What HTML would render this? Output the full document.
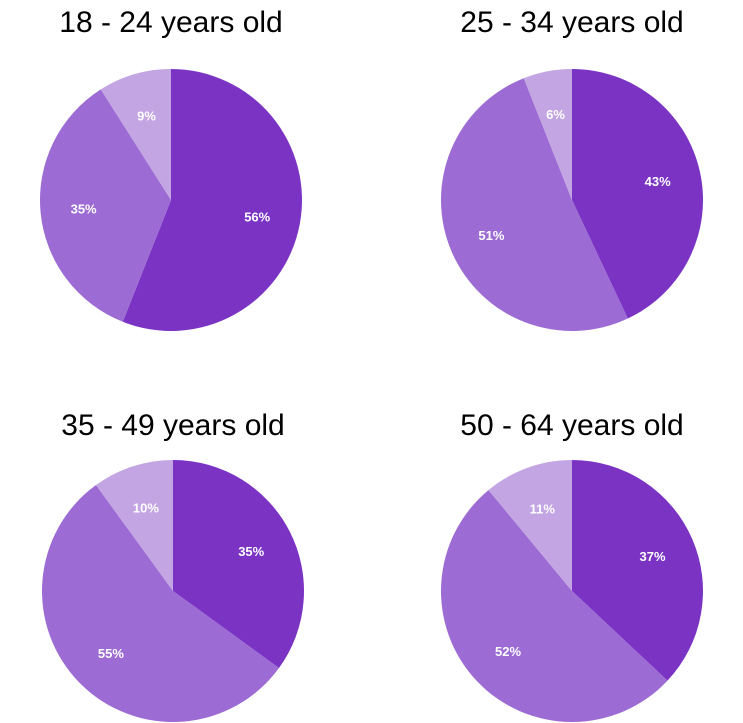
<!DOCTYPE html>
<html><head><meta charset="utf-8"><style>
html,body{margin:0;padding:0;background:#fff;width:743px;height:723px;overflow:hidden}
svg{display:block}
</style></head><body>
<svg id="chart" width="743" height="723"></svg>
<script>
const groups = ["18 - 24 years old","25 - 34 years old","35 - 49 years old","50 - 64 years old"];
const darkValues = [56,43,35,37];
const midValues = [35,51,55,52];
const lightValues = [9,6,10,11];
const colors = ["#7B33C4","#9C6BD3","#C3A5E3"];
const centers = [[171,200],[572,200],[173,591],[572,591]];
const titleY = [32,32,435,435];
const R = 131;
const svg = document.getElementById('chart');
const NS = "http://www.w3.org/2000/svg";
function pt(cx,cy,r,frac){const a=frac*2*Math.PI;return [cx+r*Math.sin(a),cy-r*Math.cos(a)];}
groups.forEach((g,i)=>{
  const [cx,cy]=centers[i];
  const t=document.createElementNS(NS,'text');
  t.setAttribute('x',cx);t.setAttribute('y',titleY[i]);
  t.setAttribute('text-anchor','middle');
  t.setAttribute('font-family','"Liberation Sans", sans-serif');
  t.setAttribute('font-size','30');t.setAttribute('fill','#000');
  t.textContent=g;
  
  
  svg.appendChild(t);
  const vals=[darkValues[i],midValues[i],lightValues[i]];
  const total=vals.reduce((a,b)=>a+b,0);
  let acc=0;
  vals.forEach((v,j)=>{
    const s=acc/total, e=(acc+v)/total; acc+=v;
    const [x1,y1]=pt(cx,cy,R,s),[x2,y2]=pt(cx,cy,R,e);
    const p=document.createElementNS(NS,'path');
    p.setAttribute('d',`M${cx},${cy} L${x1},${y1} A${R},${R} 0 ${(e-s)>0.5?1:0} 1 ${x2},${y2} Z`);
    p.setAttribute('fill',colors[j]);
    
    
    svg.appendChild(p);
    const [lx,ly]=pt(cx,cy,R*0.67,(s+e)/2);
    const l=document.createElementNS(NS,'text');
    l.setAttribute('x',lx);l.setAttribute('y',ly+5);
    l.setAttribute('text-anchor','middle');
    l.setAttribute('font-family','"Liberation Sans", sans-serif');
    l.setAttribute('font-size','13');l.setAttribute('font-weight','bold');l.setAttribute('fill','#fff');
    l.textContent=v+'%';
    
    
    svg.appendChild(l);
  });
});
</script>
</body></html>
